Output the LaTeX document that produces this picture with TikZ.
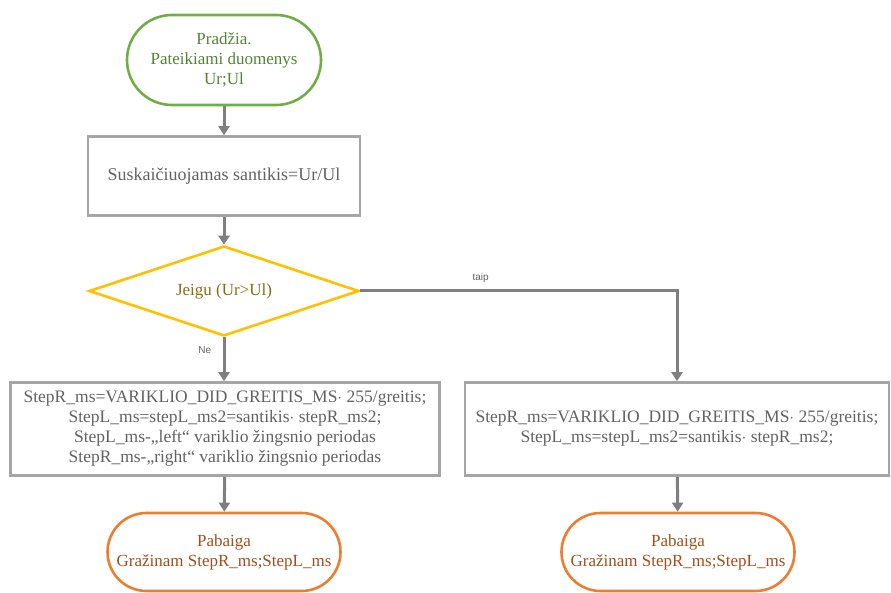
\documentclass[tikz,border=0pt]{standalone}
\usepackage{fontspec}
\setmainfont{Liberation Serif}
\newfontfamily\lblfont{Liberation Sans}
\usetikzlibrary{arrows.meta,shapes.geometric}
\definecolor{termgreen}{HTML}{70AD47}
\definecolor{textgreen}{HTML}{548235}
\definecolor{boxgray}{HTML}{A5A5A5}
\definecolor{textgray}{HTML}{626262}
\definecolor{decyellow}{HTML}{FFC000}
\definecolor{textyellow}{HTML}{8C6A14}
\definecolor{termorange}{HTML}{ED7D31}
\definecolor{textorange}{HTML}{A14E1A}
\definecolor{arrowgray}{HTML}{7F7F7F}
\tikzset{
  base/.style={inner sep=0pt, align=center, font=\fontsize{17}{20}\selectfont, line width=2.6pt},
  startterm/.style={base, draw=termgreen, text=textgreen, minimum width=194pt, minimum height=90pt, rounded corners=45pt},
  endterm/.style={base, draw=termorange, text=textorange, minimum width=233pt, minimum height=78pt, rounded corners=39pt},
  procbox/.style={base, draw=boxgray, text=textgray, font=\fontsize{17.5}{20}\selectfont},
  decbox/.style={base, shape=diamond, draw=decyellow, text=textyellow, minimum width=270pt, minimum height=90pt, aspect=3},
  conn/.style={draw=arrowgray, line width=3pt, -{Triangle[width=11pt,length=9pt]}},
  lbl/.style={font=\lblfont\fontsize{10}{11}\selectfont, text=textgray}
}
\begin{document}
\begin{tikzpicture}[x=1pt,y=-1pt]
\useasboundingbox (0,0) rectangle (891,593);
\node[startterm] (start) at (224,60) {Pradžia.\\Pateikiami duomenys\\Ur;Ul};
\node[procbox, minimum width=272pt, minimum height=79pt, font=\fontsize{18}{20}\selectfont] (calc) at (224,176) {Suskaičiuojamas santikis=Ur/Ul};
\node[decbox] (dec) at (224,291) {Jeigu (Ur>Ul)};
\node[procbox, minimum width=429pt, minimum height=93pt] (lbox) at (225,429) {StepR\_ms=VARIKLIO\_DID\_GREITIS\_MS$\cdot$ 255/greitis;\\StepL\_ms=stepL\_ms2=santikis$\cdot$ stepR\_ms2;\\StepL\_ms-„left“ variklio žingsnio periodas\\StepR\_ms-„right“ variklio žingsnio periodas};
\node[procbox, minimum width=424pt, minimum height=93pt] (rbox) at (677,429) {StepR\_ms=VARIKLIO\_DID\_GREITIS\_MS$\cdot$ 255/greitis;\\StepL\_ms=stepL\_ms2=santikis$\cdot$ stepR\_ms2;};
\node[endterm] (lend) at (224,552) {Pabaiga\\Gražinam StepR\_ms;StepL\_ms};
\node[endterm] (rend) at (678,552) {Pabaiga\\Gražinam StepR\_ms;StepL\_ms};
\draw[conn] (start) -- (calc);
\draw[conn] (calc) -- (dec);
\draw[conn] (dec.south) -- node[lbl, pos=0.3, left=8pt] {Ne} (dec.south |- lbox.north);
\draw[conn] (dec.east) -| node[lbl, pos=0.19, above=4pt] {taip} (rbox.north);
\draw[conn] (lbox) -- (lend);
\draw[conn] (rbox) -- (rend);
\end{tikzpicture}
\end{document}
